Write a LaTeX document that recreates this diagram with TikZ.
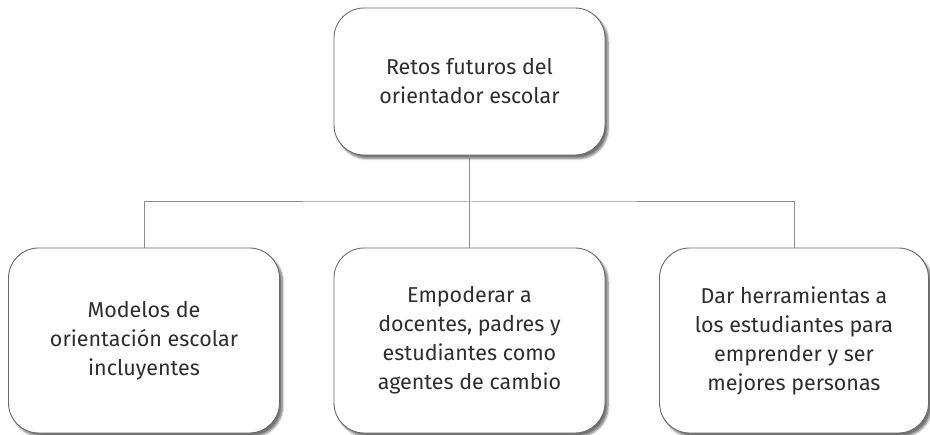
\documentclass[tikz,border=0pt]{standalone}
\usepackage{fontspec}
\setmainfont{Fira Sans}
\usetikzlibrary{shadows.blur}
\definecolor{boxline}{HTML}{6A6A6A}
\definecolor{connline}{HTML}{8C8C8C}
\definecolor{txt}{HTML}{2E2E2E}
\tikzset{
  card/.style={draw=boxline, line width=0.9pt, fill=white, rounded corners=30pt,
    minimum width=271pt, inner sep=0pt, align=center, text=txt,
    font=\fontsize{21.5}{29}\selectfont,
    blur shadow={shadow xshift=3pt, shadow yshift=-3.5pt, shadow blur steps=6, shadow opacity=55}},
  conn/.style={draw=connline, line width=1pt}
}
\begin{document}
\begin{tikzpicture}[x=1pt,y=-1pt]
\useasboundingbox (0,0) rectangle (930,435);
\node[card, minimum height=147pt] (top) at (469.5,81.5) {Retos futuros del\\orientador escolar};
\node[card, minimum height=185pt] (left) at (144,340.5) {Modelos de\\orientación escolar\\incluyentes};
\node[card, minimum height=185pt] (mid) at (469.5,340.5) {Empoderar a\\docentes, padres y\\estudiantes como\\agentes de cambio};
\node[card, minimum height=185pt, minimum width=269pt] (right) at (794,340.5) {Dar herramientas a\\los estudiantes para\\emprender y ser\\mejores personas};
\coordinate (junction) at (469.5,202);
\draw[conn] (top.south) -- (mid.north);
\draw[conn] (left.north) |- (junction) -| (right.north);
\end{tikzpicture}
\end{document}
